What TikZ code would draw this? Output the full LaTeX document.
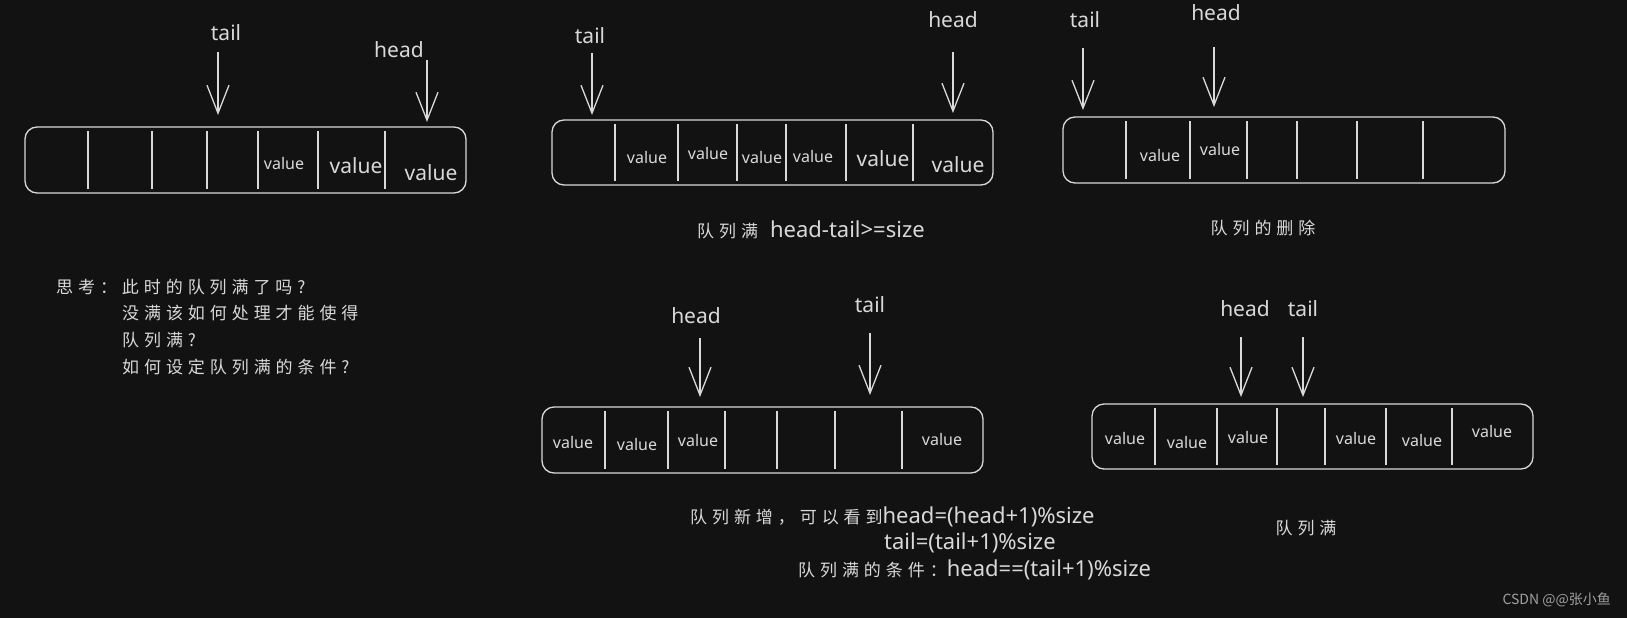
\documentclass[tikz,border=0pt]{standalone}
\usepackage{fontspec}
\setmainfont{Noto Sans}
\newfontfamily\cjk{Noto Sans CJK SC}[LetterSpace=29]
\newfontfamily\cjkw{Noto Sans CJK SC}
\usetikzlibrary{arrows.meta}

\definecolor{bgdark}{HTML}{121212}
\definecolor{chalk}{HTML}{D9D9D9}
\definecolor{mark}{HTML}{A0A0A0}

\tikzset{
  qbox/.style={draw=chalk, line width=1.3pt, rounded corners=12pt},
  sep/.style={draw=chalk, line width=1.2pt},
  ptr/.style={draw=chalk, line width=1.3pt, -{Straight Barb[length=28pt, width=22pt]}},
  lbl/.style={text=chalk, inner sep=0pt, font=\fontsize{21}{21}\selectfont},
  valsm/.style={text=chalk, inner sep=0pt, font=\fontsize{16}{16}\selectfont},
  valbig/.style={text=chalk, inner sep=0pt, font=\fontsize{21}{21}\selectfont},
  note/.style={text=chalk, inner sep=0pt, anchor=west, font=\fontsize{22}{22}\selectfont},
}
\newcommand{\zh}[1]{{\cjk\fontsize{17}{17}\selectfont #1}}

\begin{document}
\begin{tikzpicture}[x=1pt, y=-1pt]
  \fill[bgdark] (0,0) rectangle (1627,618);
  \useasboundingbox (0,0) rectangle (1627,618);

  % queue 1: is it full?
  \draw[qbox] (25,127) rectangle (466,193);
  \foreach \x in {88,152,207,258,318,385} \draw[sep] (\x,131) -- (\x,189);
  \node[valsm] (v15) at (284,163) {value};
  \node[valbig] (v16) at (356,166) {value};
  \node[valbig] (v17) at (431,173) {value};
  \node[lbl] (tail1) at (226,33) {tail};
  \node[lbl] (head1) at (399,50) {head};
  \coordinate (tail1a) at (218,52);  \coordinate (tail1b) at (218,115);
  \coordinate (head1a) at (427,60);  \coordinate (head1b) at (427,122);
  \draw[ptr] (tail1a) -- (tail1b);
  \draw[ptr] (head1a) -- (head1b);

  % queue 2: full, head-tail>=size
  \draw[qbox] (552,120) rectangle (993,185);
  \foreach \x in {615,678,737,786,846,913} \draw[sep] (\x,124) -- (\x,181);
  \node[valsm] (v22) at (647,157) {value};
  \node[valsm] (v23) at (708,153) {value};
  \node[valsm] (v24) at (762,157) {value};
  \node[valsm] (v25) at (813,156) {value};
  \node[valbig] (v26) at (883,159) {value};
  \node[valbig] (v27) at (958,165) {value};
  \node[lbl] (tail2) at (590,36) {tail};
  \node[lbl] (head2) at (953,20) {head};
  \coordinate (tail2a) at (592,53);  \coordinate (tail2b) at (592,115);
  \coordinate (head2a) at (953,52);  \coordinate (head2b) at (953,113);
  \draw[ptr] (tail2a) -- (tail2b);
  \draw[ptr] (head2a) -- (head2b);
  \node[note] (cap2) at (697,230) {\zh{队列满}\hspace{12pt}head-tail>=size};

  % queue 3: delete
  \draw[qbox] (1063,117) rectangle (1505,183);
  \foreach \x in {1126,1190,1247,1297,1357,1423} \draw[sep] (\x,121) -- (\x,179);
  \node[valsm] (v32) at (1160,155) {value};
  \node[valsm] (v33) at (1220,149) {value};
  \node[lbl] (tail3) at (1085,20) {tail};
  \node[lbl] (head3) at (1216,13) {head};
  \coordinate (tail3a) at (1083,48);  \coordinate (tail3b) at (1083,110);
  \coordinate (head3a) at (1214,47);  \coordinate (head3b) at (1214,107);
  \draw[ptr] (tail3a) -- (tail3b);
  \draw[ptr] (head3a) -- (head3b);
  \node[note, anchor=center] (cap3) at (1263,228) {\zh{队列的删除}};

  % questions
  \node[note] (q0) at (56,287) {\zh{思考：此时的队列满了吗?}};
  \node[note] (q1) at (122,313) {\zh{没满该如何处理才能使得}};
  \node[note] (q2) at (122,340) {\zh{队列满?}};
  \node[note] (q3) at (122,367) {\zh{如何设定队列满的条件?}};

  % queue 4: wrap around
  \draw[qbox] (542,407) rectangle (983,473);
  \foreach \x in {605,668,725,777,835,902} \draw[sep] (\x,411) -- (\x,469);
  \node[valsm] (v41) at (573,442) {value};
  \node[valsm] (v42) at (637,444) {value};
  \node[valsm] (v43) at (698,440) {value};
  \node[valsm] (v47) at (942,439) {value};
  \node[lbl] (head4) at (696,316) {head};
  \node[lbl] (tail4) at (870,305) {tail};
  \coordinate (head4a) at (700,338);  \coordinate (head4b) at (700,397);
  \coordinate (tail4a) at (870,333);  \coordinate (tail4b) at (870,395);
  \draw[ptr] (head4a) -- (head4b);
  \draw[ptr] (tail4a) -- (tail4b);
  \node[note] (cap4a) at (690,517) {\zh{队列新增，可以看到}head=(head+1)\%size};
  \node[note] (cap4b) at (884,543) {tail=(tail+1)\%size};
  \node[note] (cap4c) at (798,570) {\zh{队列满的条件：}head==(tail+1)\%size};

  % queue 5: full
  \draw[qbox] (1092,404) rectangle (1533,469);
  \foreach \x in {1155,1217,1277,1325,1386,1452} \draw[sep] (\x,408) -- (\x,465);
  \node[valsm] (v51) at (1125,438) {value};
  \node[valsm] (v52) at (1187,442) {value};
  \node[valsm] (v53) at (1248,437) {value};
  \node[valsm] (v55) at (1356,438) {value};
  \node[valsm] (v56) at (1422,440) {value};
  \node[valsm] (v57) at (1492,431) {value};
  \node[lbl] (head5) at (1245,309) {head};
  \node[lbl] (tail5) at (1303,309) {tail};
  \coordinate (head5a) at (1241,337);  \coordinate (head5b) at (1241,397);
  \coordinate (tail5a) at (1303,337);  \coordinate (tail5b) at (1303,397);
  \draw[ptr] (head5a) -- (head5b);
  \draw[ptr] (tail5a) -- (tail5b);
  \node[note, anchor=center] (cap5) at (1306,528) {\zh{队列满}};

  \node[text=mark, inner sep=0pt, anchor=east, font=\cjkw\fontsize{14}{14}\selectfont] (wm) at (1611,600) {CSDN @@张小鱼};
\end{tikzpicture}
\end{document}
